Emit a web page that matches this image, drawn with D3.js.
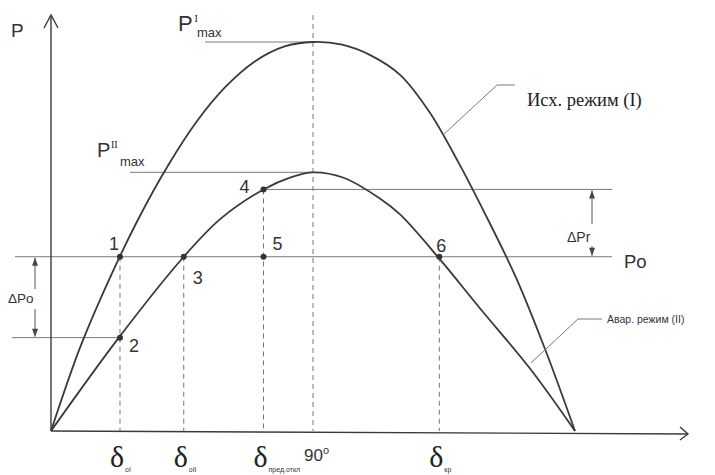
<!DOCTYPE html>
<html>
<head>
<meta charset="utf-8">
<script src="https://cdn.jsdelivr.net/npm/d3@7"></script>
<style>
  body { margin: 0; background: #fff; }
  svg { display: block; }
  .sans { font-family: "Liberation Sans", Arial, sans-serif; fill: #333; }
  .serif { font-family: "Liberation Serif", "Times New Roman", serif; fill: #222; }
</style>
</head>
<body>
<div id="vis"></div>
<script>
// ----- DATA (angle in degrees, power relative to P^I_max) ----- //
const curveI_delta = [0, 10, 20, 30, 40, 50, 60, 70, 80, 90, 100, 110, 120, 130, 140, 150, 160, 170, 180];
const curveI_P     = [0, 0.215, 0.39, 0.545, 0.68, 0.795, 0.885, 0.95, 0.988, 1.0, 0.993, 0.965, 0.915, 0.82, 0.69, 0.545, 0.39, 0.205, 0];

const curveII_delta = [0, 23.3, 45.6, 58.3, 73.0, 82.3, 90, 100.5, 113.1, 120, 133.4, 147.4, 164.6, 180];
const curveII_P     = [0, 0.240, 0.448, 0.546, 0.621, 0.652, 0.665, 0.651, 0.597, 0.556, 0.443, 0.315, 0.160, 0];

const Po = 0.448;
const PmaxI = 1.0;
const PmaxII = 0.665;

// marked points 1..6
const pointNames = ["1", "2", "3", "4", "5", "6"];
const pointDelta = [23.7, 23.7, 45.6, 73.0, 73.0, 133.4];
const pointP     = [0.448, 0.240, 0.448, 0.621, 0.448, 0.448];

// angle marks on the delta axis
const markDelta = [23.7, 45.6, 73.0, 90, 133.4];
const markSub   = ["oI", "oII", "пред.откл", "", "кр"];

// ----- SETUP ----- //
const W = 715, H = 475;
const svg = d3.select("#vis").append("svg").attr("width", W).attr("height", H);

const x = d3.scaleLinear().domain([0, 180]).range([51, 575]);
const y = d3.scaleLinear().domain([0, 1]).range([431, 42]);

const ink = "#3a3a3a", thin = "#7a7a7a";

// ----- THIN REFERENCE LINES ----- //
function hline(x1, x2, yy, col) {
  svg.append("line").attr("x1", x1).attr("x2", x2).attr("y1", yy).attr("y2", yy)
    .attr("stroke", col || thin).attr("stroke-width", 1);
}
function vdash(xx, y1, y2) {
  svg.append("line").attr("x1", xx).attr("x2", xx).attr("y1", y1).attr("y2", y2)
    .attr("stroke", "#777").attr("stroke-width", 1).attr("stroke-dasharray", "5,4");
}

hline(15, 612, y(Po));                       // Po
hline(12, x(pointDelta[1]), y(pointP[1]));   // lower level of dPo
hline(x(pointDelta[3]), 612, y(pointP[3]));  // level of point 4
hline(205, x(90), y(PmaxI));                 // P^I max
hline(130, x(90), y(PmaxII));                // P^II max

// dashed verticals
vdash(x(markDelta[0]), y(Po), y(0));
vdash(x(markDelta[1]), y(Po), y(0));
vdash(x(markDelta[2]), y(pointP[3]), y(0));
vdash(x(90), 15, y(0));
vdash(x(markDelta[4]), y(Po), y(0));

// ----- AXES ----- //
svg.append("line").attr("x1", x(0)).attr("x2", x(0)).attr("y1", y(0)).attr("y2", 15)
  .attr("stroke", ink).attr("stroke-width", 1.4);
svg.append("path").attr("d", `M${x(0) - 7},28 L${x(0)},15 L${x(0) + 7},28`)
  .attr("fill", "none").attr("stroke", ink).attr("stroke-width", 1.4);

svg.append("line").attr("x1", x(0)).attr("x2", 688).attr("y1", y(0)).attr("y2", y(0) + 3)
  .attr("stroke", ink).attr("stroke-width", 1.4);
svg.append("path").attr("d", `M680,${y(0) - 4} L688,${y(0) + 3} L680,${y(0) + 9}`)
  .attr("fill", "none").attr("stroke", ink).attr("stroke-width", 1.4);

// ----- CURVES ----- //
const line = d3.line().x((d) => x(d[0])).y((d) => y(d[1])).curve(d3.curveCatmullRom.alpha(0.5));

svg.append("path").datum(d3.zip(curveI_delta, curveI_P)).attr("d", line)
  .attr("fill", "none").attr("stroke", ink).attr("stroke-width", 1.8);
svg.append("path").datum(d3.zip(curveII_delta, curveII_P)).attr("d", line)
  .attr("fill", "none").attr("stroke", ink).attr("stroke-width", 1.8);

// ----- POINTS ----- //
svg.selectAll("circle.pt").data(d3.range(pointNames.length)).join("circle")
  .attr("class", "pt")
  .attr("cx", (i) => x(pointDelta[i])).attr("cy", (i) => y(pointP[i]))
  .attr("r", 3).attr("fill", "#333");

const labelOff = [[-11, -7], [9, 14], [9, 27], [-24, 4], [9, -7], [-3, -5]];
svg.selectAll("text.pt").data(d3.range(pointNames.length)).join("text")
  .attr("class", "pt sans")
  .attr("x", (i) => x(pointDelta[i]) + labelOff[i][0])
  .attr("y", (i) => y(pointP[i]) + labelOff[i][1])
  .attr("font-size", 18).text((i) => pointNames[i]);

// ----- DELTA ARROWS ----- //
function dimArrow(xx, yTop, yBot, gapTop, gapBot) {
  svg.append("line").attr("x1", xx).attr("x2", xx).attr("y1", yTop).attr("y2", gapTop)
    .attr("stroke", "#555").attr("stroke-width", 1);
  svg.append("line").attr("x1", xx).attr("x2", xx).attr("y1", gapBot).attr("y2", yBot)
    .attr("stroke", "#555").attr("stroke-width", 1);
  svg.append("path").attr("d", `M${xx},${yTop} L${xx - 3},${yTop + 8} L${xx + 3},${yTop + 8}Z`).attr("fill", "#444");
  svg.append("path").attr("d", `M${xx},${yBot} L${xx - 3},${yBot - 8} L${xx + 3},${yBot - 8}Z`).attr("fill", "#444");
}
dimArrow(35, y(Po) + 1, y(pointP[1]) - 1, 289, 309);
dimArrow(592, y(pointP[3]) + 1, y(Po) - 1, 224, 246);

svg.append("text").attr("class", "sans").attr("x", 8).attr("y", 303).attr("font-size", 13.5).text("ΔPo");
svg.append("text").attr("class", "sans").attr("x", 567).attr("y", 242).attr("font-size", 14).text("ΔPr");
svg.append("text").attr("class", "sans").attr("x", 624).attr("y", 268).attr("font-size", 18.5).text("Po");

// ----- AXIS AND MAX LABELS ----- //
svg.append("text").attr("class", "sans").attr("x", 11).attr("y", 37).attr("font-size", 19).text("P");

svg.append("text").attr("class", "sans").attr("x", 178).attr("y", 31).attr("font-size", 22).text("P");
svg.append("text").attr("class", "serif").attr("x", 194.5).attr("y", 22).attr("font-size", 10).text("I");
svg.append("text").attr("class", "sans").attr("x", 197).attr("y", 37).attr("font-size", 13).text("max");

svg.append("text").attr("class", "sans").attr("x", 97).attr("y", 157).attr("font-size", 20).text("P");
svg.append("text").attr("class", "serif").attr("x", 111).attr("y", 148).attr("font-size", 10).text("II");
svg.append("text").attr("class", "sans").attr("x", 120).attr("y", 166).attr("font-size", 13).text("max");

// ----- DELTA LABELS ON X ----- //
markDelta.forEach(function (d, i) {
  if (d === 90) {
    const t = svg.append("text").attr("class", "sans").attr("x", x(d) - 9).attr("y", 461).attr("font-size", 17);
    t.append("tspan").text("90");
    t.append("tspan").attr("dy", -7).attr("font-size", 11).text("o");
    return;
  }
  svg.append("text").attr("class", "serif").attr("x", x(d) - 10).attr("y", 467)
    .attr("font-size", 30).text("δ");
  svg.append("text").attr("class", "sans").attr("x", x(d) + 5).attr("y", 472)
    .attr("font-size", 7).attr("fill", "#666").text(markSub[i]);
});

// ----- CALLOUTS ----- //
svg.append("path").attr("d", "M443,135 L497,85 L515,85")
  .attr("fill", "none").attr("stroke", thin).attr("stroke-width", 1);
svg.append("text").attr("class", "serif").attr("x", 527).attr("y", 106).attr("font-size", 18.5)
  .attr("fill", "#111").text("Исх. режим (I)");

svg.append("path").attr("d", "M531,363 L578,319 L602,319")
  .attr("fill", "none").attr("stroke", thin).attr("stroke-width", 1);
svg.append("text").attr("class", "sans").attr("x", 607).attr("y", 323).attr("font-size", 10.5)
  .text("Авар. режим (II)");
</script>
</body>
</html>
